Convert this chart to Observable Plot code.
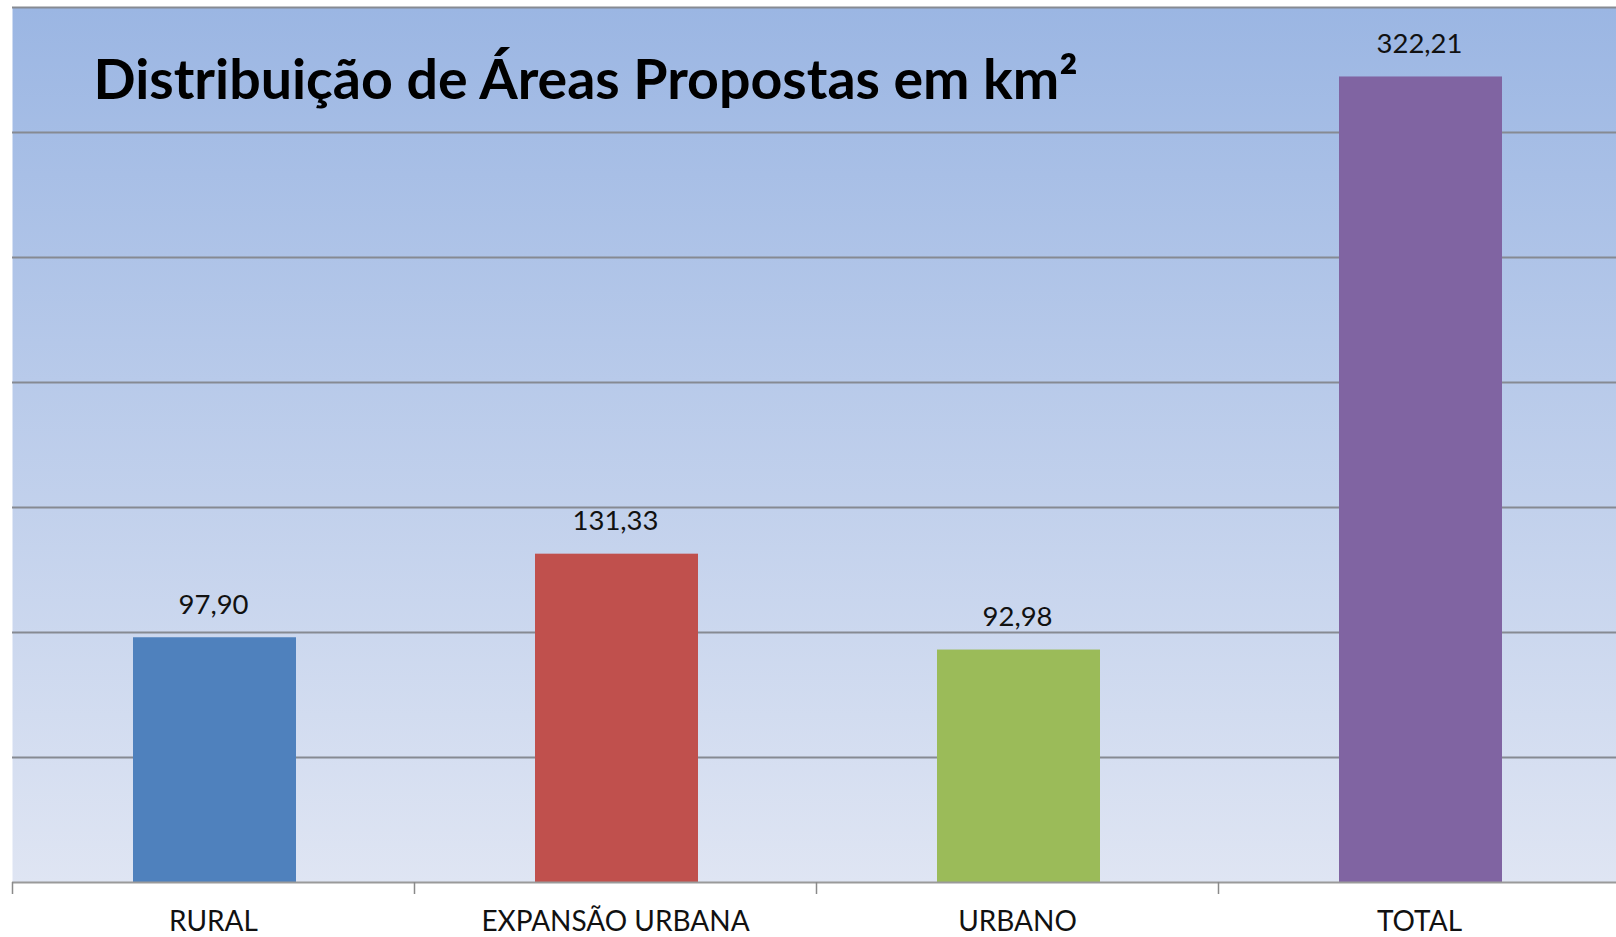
<!DOCTYPE html>
<html>
<head>
<meta charset="utf-8">
<script src="https://cdn.jsdelivr.net/npm/d3@7"></script>
<script src="https://cdn.jsdelivr.net/npm/@observablehq/plot@0.6"></script>
<style>
  html, body { margin: 0; padding: 0; background: #fff; overflow: hidden; }
  #chart svg { display: block; max-width: none !important; }
</style>
</head>
<body>
<div id="chart"></div>
<script>
const title = "Distribuição de Áreas Propostas em km²";
const categories = ["RURAL", "EXPANSÃO URBANA", "URBANO", "TOTAL"];
const values = [97.90, 131.33, 92.98, 322.21];
const colors = ["#4f81bd", "#c0504d", "#9bbb59", "#8064a2"];
const yTicks = [0, 50, 100, 150, 200, 250, 300, 350];

const data = categories.map((c, i) => ({category: c, value: values[i], color: colors[i]}));
const fmt = v => v.toFixed(2).replace(".", ",");
const font = "Lato, 'Open Sans', sans-serif";

const chart = Plot.plot({
  width: 1620,
  height: 937,
  marginLeft: 12,
  marginRight: 0,
  marginTop: 7,
  marginBottom: 55,
  style: {fontFamily: font, background: "transparent", maxWidth: "none"},
  x: {type: "band", domain: categories, padding: 0, axis: null, label: null},
  y: {domain: [0, 350], axis: null, label: null},
  marks: [
    Plot.frame({fill: "url(#bgGrad)", stroke: null}),
    Plot.ruleY(yTicks.filter(d => d > 0), {stroke: "#868a92", strokeWidth: 2}),
    Plot.barY(data, {x: "category", y: "value", fill: "color", insetLeft: 121, insetRight: 118}),
    Plot.ruleY([0], {stroke: "#9a9a9a", strokeWidth: 2}),
    Plot.axisX({tickSize: 12, tickFormat: () => "", label: null, dx: -201, stroke: "#8a8a8a", strokeWidth: 1.5}),
    Plot.axisX({tickSize: 0, tickPadding: 29, label: null, fontSize: 28, fill: "#111"}),
    Plot.text(data, {x: "category", y: "value", text: d => fmt(d.value), lineAnchor: "bottom", dy: -24, fontSize: 27.5, fill: "#111"}),
    Plot.text([title], {frameAnchor: "top-left", text: d => d, textAnchor: "start", lineAnchor: "bottom", dx: 81, dy: 91, fontSize: 55.5, fontWeight: "bold", fill: "#000"})
  ]
});

const svg = d3.select(chart);
const defs = svg.insert("defs", ":first-child");
const grad = defs.append("linearGradient").attr("id", "bgGrad").attr("x1", 0).attr("y1", 0).attr("x2", 0).attr("y2", 1);
grad.append("stop").attr("offset", "0%").attr("stop-color", "#9bb6e3");
grad.append("stop").attr("offset", "100%").attr("stop-color", "#dfe5f3");

document.getElementById("chart").appendChild(chart);
</script>
</body>
</html>
